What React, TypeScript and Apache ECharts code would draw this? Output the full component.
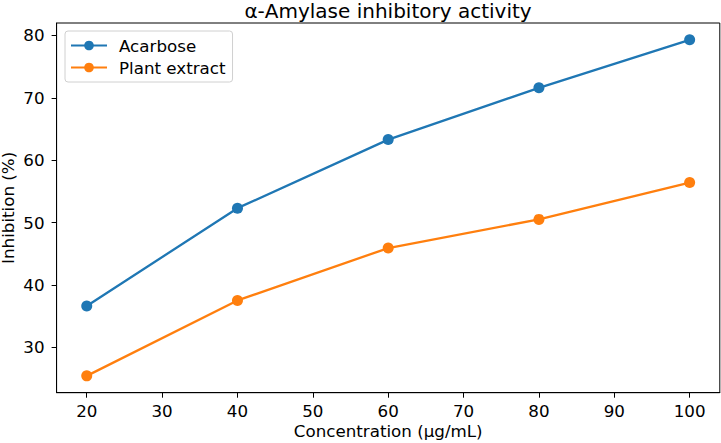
import React, { useEffect, useRef } from "react";
import * as echarts from "echarts";

const concentrations = [20, 40, 60, 80, 100];
const acarbose = [36.6, 52.3, 63.3, 71.6, 79.3];
const plantExtract = [25.4, 37.5, 45.9, 50.5, 56.4];
const xTicks = [20, 30, 40, 50, 60, 70, 80, 90, 100];
const yTicks = [30, 40, 50, 60, 70, 80];

const FONT = "DejaVu Sans";
const FS = 16.7;

export default function App() {
  const ref = useRef<HTMLDivElement>(null);
  useEffect(() => {
    if (!ref.current) return;
    const chart = echarts.init(ref.current, null, { renderer: "svg" });
    const axisCommon = {
      axisLine: { show: true, onZero: false, lineStyle: { color: "#000", width: 1 } },
      splitLine: { show: false },
    };
    chart.setOption({
      animation: false,
      backgroundColor: "#fff",
      title: {
        text: "α-Amylase inhibitory activity",
        left: 388,
        textAlign: "center",
        top: 1,
        padding: 0,
        textStyle: { fontFamily: FONT, fontSize: 20, lineHeight: 20, fontWeight: "normal", color: "#000" },
      },
      legend: {
        orient: "vertical",
        left: 65,
        top: 31,
        padding: [6, 7, 6, 5],
        itemGap: 5,
        itemWidth: 36,
        itemHeight: 12,
        borderColor: "#d0d0d0",
        borderWidth: 1,
        borderRadius: 3,
        backgroundColor: "rgba(255,255,255,0.8)",
        textStyle: { fontFamily: FONT, fontSize: FS, color: "#000", padding: [0, 0, 0, 7] },
        data: ["Acarbose", "Plant extract"],
      },
      grid: {
        left: 56.6,
        right: 1.2,
        top: 23,
        bottom: 50.3,
        containLabel: false,
        outerBoundsMode: "none",
        show: true,
        borderColor: "#000",
        borderWidth: 1,
        backgroundColor: "transparent",
      },
      xAxis: {
        type: "value",
        min: 16,
        max: 104,
        name: "Concentration (μg/mL)",
        nameLocation: "middle",
        nameGap: 30,
        nameMoveOverlap: false,
        nameTextStyle: { fontFamily: FONT, fontSize: FS, color: "#000" },
        ...axisCommon,
        axisTick: { show: true, length: 5, lineStyle: { color: "#000" }, customValues: xTicks },
        axisLabel: { fontFamily: FONT, fontSize: FS, color: "#000", margin: 10, customValues: xTicks },
      },
      yAxis: {
        type: "value",
        min: 22.7,
        max: 82.0,
        name: "Inhibition (%)",
        nameLocation: "middle",
        nameGap: 41,
        nameMoveOverlap: false,
        nameTextStyle: { fontFamily: FONT, fontSize: FS, lineHeight: 16, color: "#000" },
        ...axisCommon,
        axisTick: { show: true, length: 5, lineStyle: { color: "#000" }, customValues: yTicks },
        axisLabel: { fontFamily: FONT, fontSize: FS, color: "#000", margin: 12, customValues: yTicks },
      },
      series: [
        {
          name: "Acarbose",
          type: "line",
          data: concentrations.map((c, i) => [c, acarbose[i]]),
          symbol: "circle",
          symbolSize: 11,
          color: "#1f77b4",
          lineStyle: { width: 2.3, color: "#1f77b4" },
          itemStyle: { color: "#1f77b4" },
        },
        {
          name: "Plant extract",
          type: "line",
          data: concentrations.map((c, i) => [c, plantExtract[i]]),
          symbol: "circle",
          symbolSize: 11,
          color: "#ff7f0e",
          lineStyle: { width: 2.3, color: "#ff7f0e" },
          itemStyle: { color: "#ff7f0e" },
        },
      ],
    });
    return () => chart.dispose();
  }, []);
  return (
    <div
      ref={ref}
      style={{ position: "absolute", left: 0, top: 0, width: 721, height: 443 }}
    />
  );
}
